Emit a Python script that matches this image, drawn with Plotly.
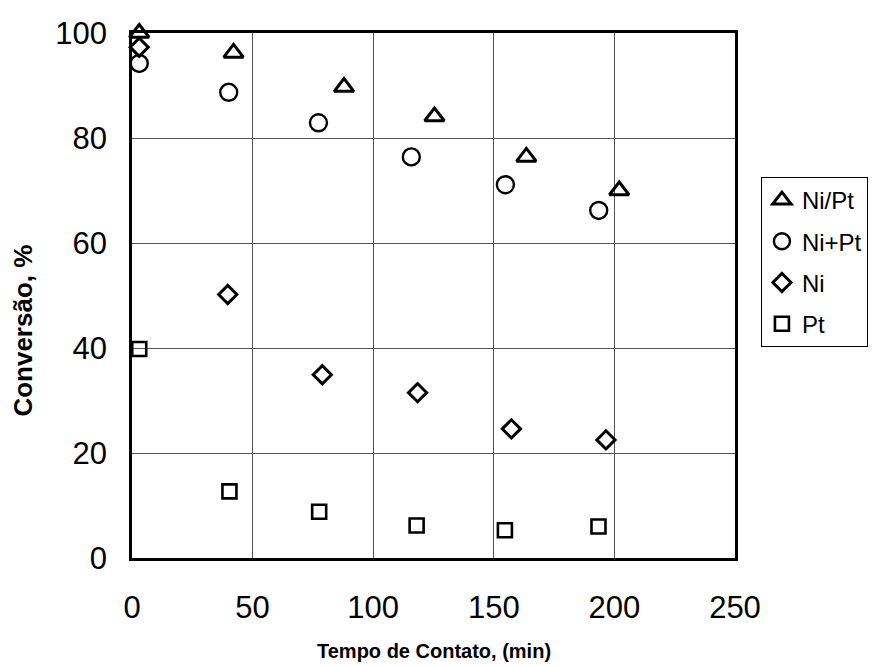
import plotly.graph_objects as go

# Data
tempo_nipt = [3, 42.1, 87.9, 125.4, 163.5, 202.0]
conv_nipt = [100.0, 96.2, 89.7, 84.1, 76.4, 70.0]

tempo_niplus = [3, 40.1, 77.3, 115.8, 154.8, 193.5]
conv_niplus = [94.2, 88.7, 82.9, 76.4, 71.1, 66.2]

tempo_ni = [3, 39.7, 78.9, 118.4, 157.3, 196.5]
conv_ni = [97.3, 50.2, 34.9, 31.5, 24.6, 22.5]

tempo_pt = [3, 40.4, 77.6, 118.0, 154.6, 193.4]
conv_pt = [39.8, 12.7, 8.8, 6.2, 5.3, 6.0]

series_names = ["Ni/Pt", "Ni+Pt", "Ni", "Pt"]
x_ticks = [0, 50, 100, 150, 200, 250]
y_ticks = [0, 20, 40, 60, 80, 100]

FONT = "Liberation Sans, Arial, sans-serif"

fig = go.Figure()
specs = [
    (tempo_nipt, conv_nipt, "triangle-up-open", 17, 3.0),
    (tempo_niplus, conv_niplus, "circle-open", 17, 2.4),
    (tempo_ni, conv_ni, "diamond-open", 14, 3.0),
    (tempo_pt, conv_pt, "square-open", 14, 2.6),
]
for name, (xs, ys, sym, size, lw) in zip(series_names, specs):
    fig.add_trace(go.Scatter(
        x=xs, y=ys, mode="markers", name=name, legendgroup=name,
        cliponaxis=False,
        marker=dict(symbol=sym, size=size, color="black",
                    line=dict(color="black", width=lw)),
    ))

axis_common = dict(
    showline=True, mirror=True, linecolor="black", linewidth=2.5,
    showgrid=True, gridcolor="#555555", gridwidth=1,
    zeroline=False, ticks="",
    tickfont=dict(family=FONT, size=31, color="black"),
)

fig.update_layout(
    width=880, height=666,
    margin=dict(l=132, r=142, t=33, b=108),
    paper_bgcolor="white", plot_bgcolor="white",
    showlegend=True,
    legend=dict(
        x=1.043, xanchor="left", y=0.7257, yanchor="top",
        bordercolor="black", borderwidth=1, bgcolor="white",
        font=dict(family=FONT, size=24, color="black"),
        tracegroupgap=7, traceorder="grouped",
        itemwidth=30, entrywidth=90,
    ),
    xaxis=dict(range=[0, 250], tickvals=x_ticks, ticklabelstandoff=20, **axis_common),
    yaxis=dict(range=[0, 100], tickvals=y_ticks, ticklabelstandoff=16, **axis_common),
    annotations=[
        dict(text="<b>Tempo de Contato, (min)</b>", xref="paper", yref="paper",
             x=0.5, y=-0.177, xanchor="center", yanchor="middle", showarrow=False,
             font=dict(family=FONT, size=20, color="black")),
        dict(text="<b>Conversão, %</b>", xref="paper", yref="paper",
             x=-0.18, y=0.434, xanchor="center", yanchor="middle", showarrow=False,
             textangle=-90, font=dict(family=FONT, size=26, color="black")),
    ],
)

fig.write_html(
    "out.html",
    config={"displayModeBar": False},
    post_script="document.body.style.margin='0px';document.body.style.overflow='hidden';",
)
